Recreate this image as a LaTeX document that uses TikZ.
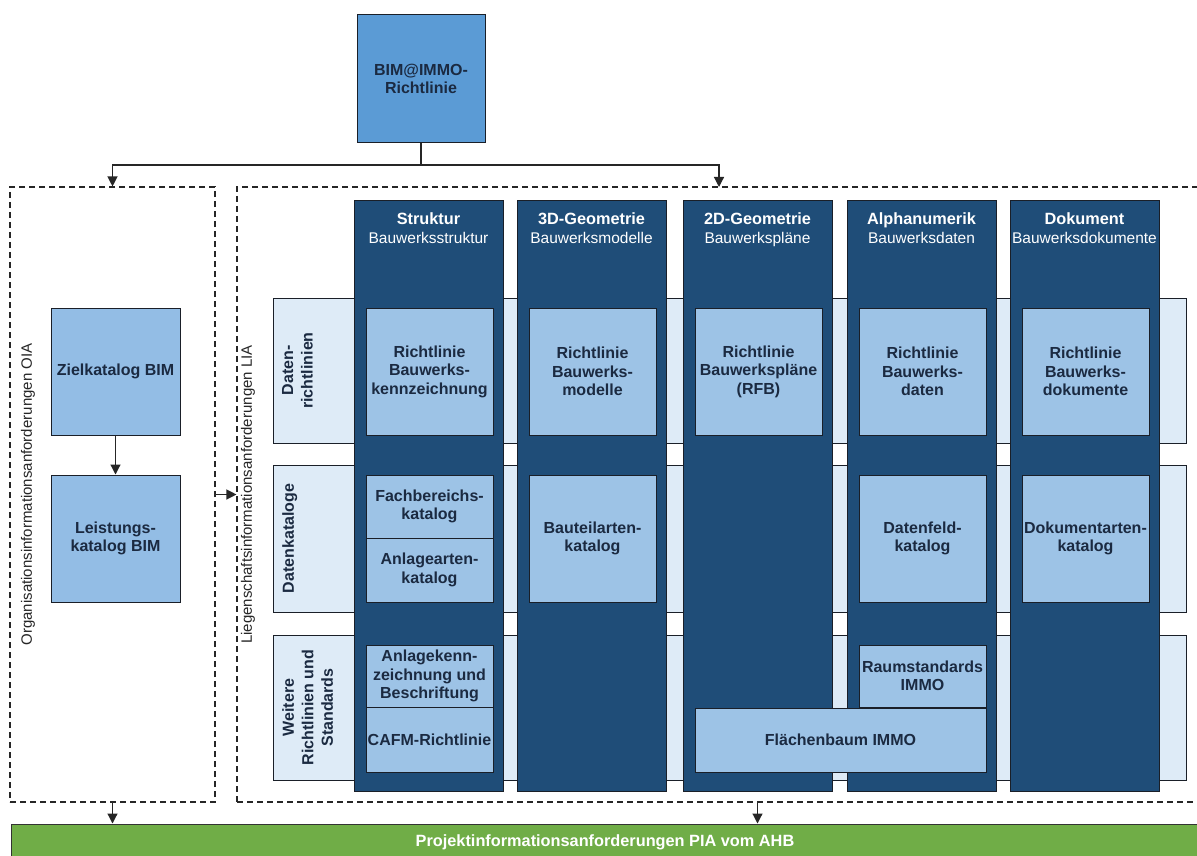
\documentclass[tikz,border=0pt]{standalone}
\usepackage{fontspec}
\setmainfont{Liberation Sans}
\usetikzlibrary{arrows.meta,fit}
\definecolor{bimblue}{HTML}{5B9BD5}
\definecolor{navy}{HTML}{1F4D78}
\definecolor{innerblue}{HTML}{9DC3E6}
\definecolor{zielblue}{HTML}{93BDE5}
\definecolor{pale}{HTML}{DEEBF7}
\definecolor{pgreen}{HTML}{70AD47}
\definecolor{txtdark}{HTML}{1B2A41}
\definecolor{boxline}{HTML}{1A1F28}
\begin{document}
\begin{tikzpicture}[x=1pt,y=-1pt,
  boldtxt/.style={font=\bfseries\fontsize{16}{18.5}\selectfont},
  box/.style={draw=boxline, line width=1pt, inner sep=0pt},
  boxtxt/.style={anchor=center, align=center, inner sep=0pt, boldtxt, text=txtdark},
  innerbox/.style={box, fill=innerblue},
  zielbox/.style={box, fill=zielblue},
  rowbox/.style={draw=boxline, line width=1pt, fill=pale, inner sep=0pt},
  colbox/.style={draw=boxline, line width=1pt, fill=navy, inner sep=0pt},
  dashbox/.style={draw=black!85, line width=1.1pt, dash pattern=on 6pt off 4pt, inner sep=0pt},
  rowlabel/.style={rotate=90, anchor=north, align=center, inner sep=0pt, font=\bfseries\fontsize{16}{19.5}\selectfont, text=txtdark},
  sidelabel/.style={rotate=90, anchor=center, inner sep=0pt, font=\fontsize{15}{18}\selectfont, text=black!85},
  headbold/.style={anchor=base, inner sep=0pt, text=white, font=\bfseries\fontsize{16.3}{19}\selectfont},
  headsub/.style={anchor=base, inner sep=0pt, text=white, font=\fontsize{15.5}{18}\selectfont},
  arr/.style={-{Triangle[width=10pt,length=10pt]}, line width=1.2pt, draw=black!85},
  conn/.style={line width=1.2pt, draw=black!85}]
\useasboundingbox (0,0) rectangle (1197,856);
\begin{scope}
\clip (0,0) rectangle (1197,856);
\fill[white] (0,0) rectangle (1197,856);

% top box
\node[box, fill=bimblue, fit={(357,15) (485,143)}] (bim) {};
\node[boxtxt] (bimt) at (bim.center) {BIM@IMMO-\\Richtlinie};

% dashed regions
\node[dashbox, fit={(10,187) (215,802)}] (oia) {};
\node[dashbox, fit={(237,187) (1240,802)}] (lia) {};
\node[sidelabel] (oialab) at (28,494.5) {Organisationsinformationsanforderungen OIA};
\node[sidelabel] (lialab) at (248,494.5) {Liegenschaftsinformationsanforderungen LIA};

% OIA content
\node[zielbox, fit={(51,308) (180,435)}] (ziel) {};
\node[boxtxt] (zielt) at (ziel.center) {Zielkatalog BIM};
\node[zielbox, fit={(51,475) (180,602)}] (leist) {};
\node[boxtxt] (leistt) at (leist.center) {Leistungs-\\katalog BIM};

% rows
\node[rowbox, fit={(273,298) (1186,443)}] (row1) {};
\node[rowbox, fit={(273,465) (1186,612)}] (row2) {};
\node[rowbox, fit={(273,635) (1186,780)}] (row3) {};
\node[rowlabel] (lab1) at (282,370.5) {Daten-\\richtlinien};
\node[rowlabel] (lab2) at (282,538.5) {Datenkataloge};
\node[rowlabel] (lab3) at (282,707.5) {Weitere\\Richtlinien und\\Standards};

% columns
\node[colbox, fit={(354,200) (503,791)}] (col1) {};
\node[colbox, fit={(517,200) (666,791)}] (col2) {};
\node[colbox, fit={(683,200) (832,791)}] (col3) {};
\node[colbox, fit={(847,200) (996,791)}] (col4) {};
\node[colbox, fit={(1010,200) (1159,791)}] (col5) {};

\node[headbold] (h1) at (428.5,224) {Struktur};
\node[headsub] (s1) at (428.5,243) {Bauwerksstruktur};
\node[headbold] (h2) at (591.5,224) {3D-Geometrie};
\node[headsub] (s2) at (591.5,243) {Bauwerksmodelle};
\node[headbold] (h3) at (757.5,224) {2D-Geometrie};
\node[headsub] (s3) at (757.5,243) {Bauwerkspläne};
\node[headbold] (h4) at (921.5,224) {Alphanumerik};
\node[headsub] (s4) at (921.5,243) {Bauwerksdaten};
\node[headbold] (h5) at (1084.5,224) {Dokument};
\node[headsub] (s5) at (1084.5,243) {Bauwerksdokumente};

% row 1
\node[innerbox, fit={(366,308) (493,435)}] (r1c1) {};
\node[boxtxt] (r1c1t) at (r1c1.center) {Richtlinie\\Bauwerks-\\kennzeichnung};
\node[innerbox, fit={(529,308) (656,435)}] (r1c2) {};
\node[boxtxt] (r1c2t) at (r1c2.center) {Richtlinie\\Bauwerks-\\modelle};
\node[innerbox, fit={(695,308) (822,435)}] (r1c3) {};
\node[boxtxt] (r1c3t) at (r1c3.center) {Richtlinie\\Bauwerkspläne\\(RFB)};
\node[innerbox, fit={(859,308) (986,435)}] (r1c4) {};
\node[boxtxt] (r1c4t) at (r1c4.center) {Richtlinie\\Bauwerks-\\daten};
\node[innerbox, fit={(1022,308) (1149,435)}] (r1c5) {};
\node[boxtxt] (r1c5t) at (r1c5.center) {Richtlinie\\Bauwerks-\\dokumente};

% row 2
\node[innerbox, fit={(366,475) (493,538)}] (r2c1a) {};
\node[boxtxt] (r2c1at) at (r2c1a.center) {Fachbereichs-\\katalog};
\node[innerbox, fit={(366,538) (493,602)}] (r2c1b) {};
\node[boxtxt] (r2c1bt) at (r2c1b.center) {Anlagearten-\\katalog};
\node[innerbox, fit={(529,475) (656,602)}] (r2c2) {};
\node[boxtxt] (r2c2t) at (r2c2.center) {Bauteilarten-\\katalog};
\node[innerbox, fit={(859,475) (986,602)}] (r2c4) {};
\node[boxtxt] (r2c4t) at (r2c4.center) {Datenfeld-\\katalog};
\node[innerbox, fit={(1022,475) (1149,602)}] (r2c5) {};
\node[boxtxt] (r2c5t) at (r2c5.center) {Dokumentarten-\\katalog};

% row 3
\node[innerbox, fit={(366,645) (493,707)}] (r3c1a) {};
\node[boxtxt] (r3c1at) at (r3c1a.center) {Anlagekenn-\\zeichnung und\\Beschriftung};
\node[innerbox, fit={(366,707) (493,772)}] (r3c1b) {};
\node[boxtxt] (r3c1bt) at (r3c1b.center) {CAFM-Richtlinie};
\node[innerbox, fit={(859,645) (986,707)}] (r3c4) {};
\node[boxtxt] (r3c4t) at (r3c4.center) {Raumstandards\\IMMO};
\node[innerbox, fit={(695,708) (986,772)}] (r3c34) {};
\node[boxtxt] (r3c34t) at (r3c34.center) {Flächenbaum IMMO};

% bottom bar
\node[draw=black!80, line width=1pt, fill=pgreen, inner sep=0pt, fit={(11,824) (1215,870)}] (pia) {};
\node[inner sep=0pt, text=white, font=\bfseries\fontsize{16.3}{19}\selectfont] (piatxt) at (605,842) {Projektinformationsanforderungen PIA vom AHB};

% connectors
\coordinate (junc) at (bim.south |- 0,165);
\coordinate (liatop) at (719,187);
\coordinate (liabot) at (757.5,802);
\draw[conn] (bim.south) -- (junc);
\draw[arr] (junc) -| (oia.north);
\draw[arr] (junc) -| (liatop);
\draw[arr] (ziel.south) -- (leist.north);
\draw[arr] (oia.east) -- (oia.east -| lia.west);
\draw[arr] (oia.south) -- (oia.south |- pia.north);
\draw[arr] (liabot) -- (liabot |- pia.north);
\end{scope}
\end{tikzpicture}
\end{document}
